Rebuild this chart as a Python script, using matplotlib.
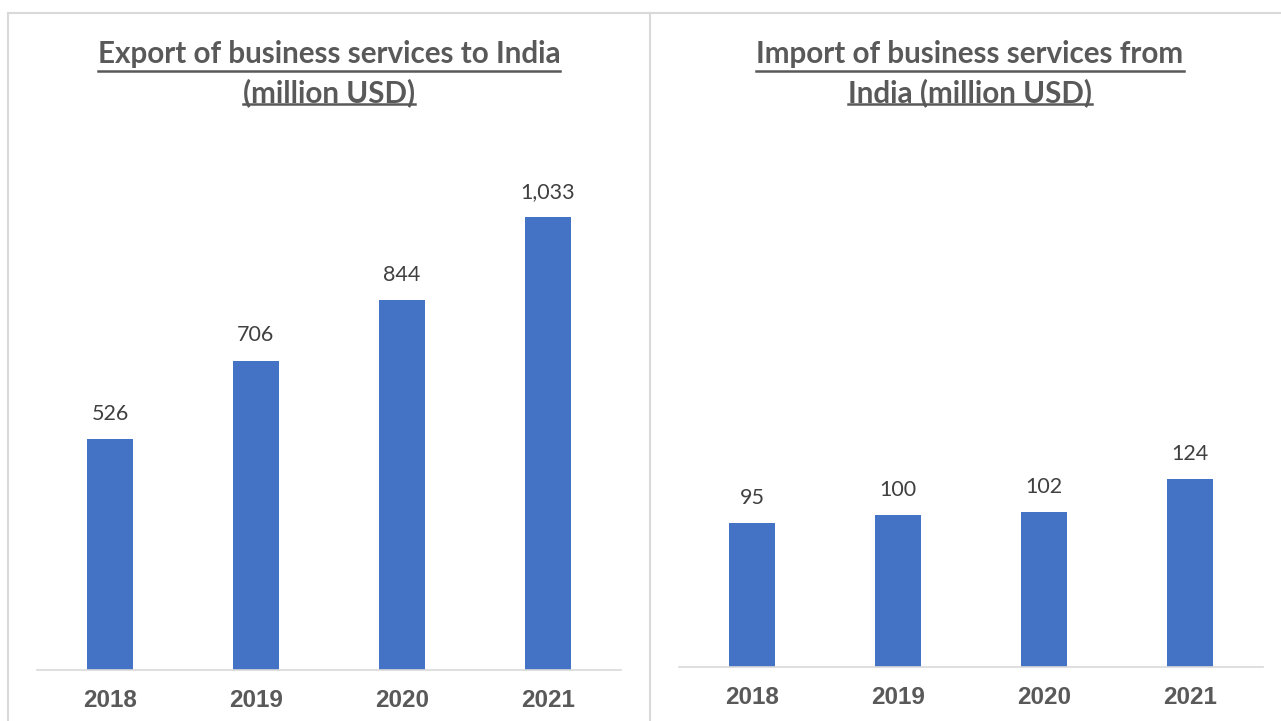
import matplotlib
matplotlib.use("Agg")
import matplotlib.pyplot as plt
from matplotlib.lines import Line2D

years = ["2018", "2019", "2020", "2021"]
export_vals = [526, 706, 844, 1033]
import_vals = [95, 100, 102, 124]
titles = ["Export of business services to India\n(million USD)",
          "Import of business services from\nIndia (million USD)"]

W, H = 1281, 721
fig = plt.figure(figsize=(W / 100, H / 100), dpi=100)
fig.patch.set_facecolor("white")

BAR = "#4472C4"
TXT = "#404040"
TICK = "#595959"
GRID = "#D9D9D9"

def px(x0, y0, x1, y1):
    return [x0 / W, 1 - y1 / H, (x1 - x0) / W, (y1 - y0) / H]

# frame lines
fig.add_artist(Line2D([8 / W, 1], [1 - 12.5 / H, 1 - 12.5 / H], color=GRID, lw=1.5))
fig.add_artist(Line2D([8 / W, 8 / W], [0, 1 - 12.5 / H], color=GRID, lw=1.5))
fig.add_artist(Line2D([650 / W, 650 / W], [0, 1 - 12.5 / H], color=GRID, lw=1.5))

specs = [
    (export_vals, px(37, 144, 621, 670), 1200, "{:,}", 329),
    (import_vals, px(679, 144, 1263, 667), 345, "{:,}", 970),
]

title_texts = []
for (vals, rect, ymax, fmt, tcx), title in zip(specs, titles):
    ax = fig.add_axes(rect)
    x = range(len(years))
    bars = ax.bar(x, vals, width=0.315, color=BAR)
    ax.set_xlim(-0.5, len(years) - 0.5)
    ax.set_ylim(0, ymax)
    for s in ["top", "right", "left"]:
        ax.spines[s].set_visible(False)
    ax.spines["bottom"].set_color(GRID)
    ax.spines["bottom"].set_linewidth(1.2)
    ax.set_yticks([])
    ax.set_xticks(list(x))
    ax.set_xticklabels(years, fontfamily="Liberation Sans", fontweight="bold",
                       fontsize=17.5, color=TICK)
    ax.tick_params(axis="x", length=0, pad=14)
    for xi, v in zip(x, vals):
        ax.annotate(fmt.format(v), (xi, v), xytext=(0, 11), textcoords="offset points",
                    ha="center", va="bottom", fontsize=15.5, fontfamily="Lato", color=TXT)
    t = fig.text(tcx / W, 1 - 74 / H, title, ha="center", va="center",
                 fontsize=21.3, fontfamily="Lato", fontweight="bold", color=TICK,
                 linespacing=1.42)
    title_texts.append(t)

# underline each title line
fig.canvas.draw()
renderer = fig.canvas.get_renderer()
for t in title_texts:
    lines = t.get_text().split("\n")
    bb = t.get_window_extent(renderer)
    n = len(lines)
    lh = bb.height / n
    for i, ln in enumerate(lines):
        tmp = fig.text(0, 0, ln, fontsize=t.get_fontsize(), fontfamily="Lato",
                       fontweight="bold")
        w = tmp.get_window_extent(renderer).width
        tmp.remove()
        cx = (bb.x0 + bb.x1) / 2
        ybase = bb.y1 - (i + 1) * lh + 0.10 * lh
        fig.add_artist(Line2D([(cx - w / 2) / W, (cx + w / 2) / W],
                              [ybase / H, ybase / H], color=TICK, lw=1.8))

fig.savefig("out.png", dpi=100)
